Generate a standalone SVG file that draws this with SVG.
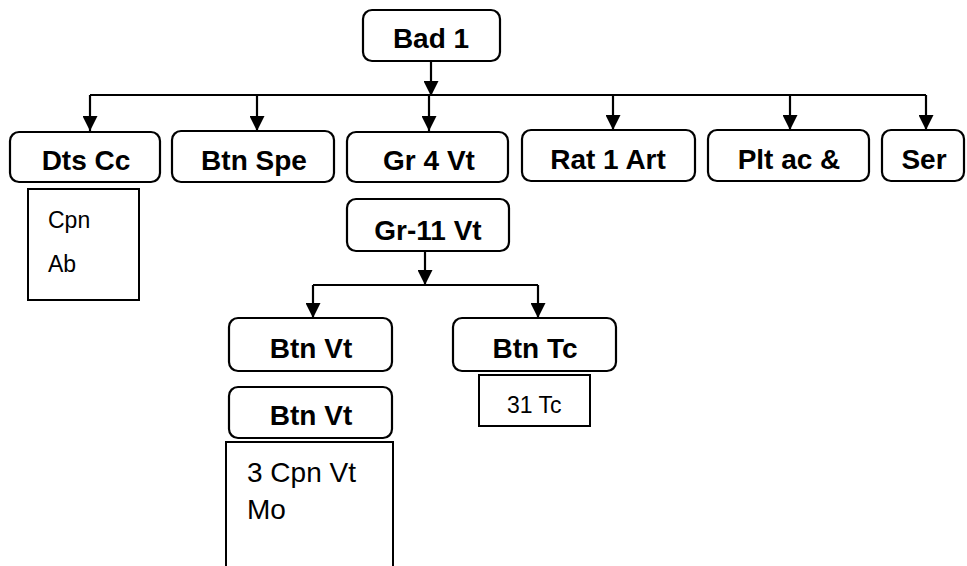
<svg xmlns="http://www.w3.org/2000/svg" width="967" height="566" viewBox="0 0 967 566">
<style>
.box{fill:#fff;stroke:#000;stroke-width:2.2}
.sub{fill:#fff;stroke:#000;stroke-width:2}
.t{font-family:"Liberation Sans",Arial,sans-serif;font-weight:bold;font-size:28px;fill:#000;text-anchor:middle}
.s{font-family:"Liberation Sans",Arial,sans-serif;font-size:23px;fill:#000}
.r{font-family:"Liberation Sans",Arial,sans-serif;font-size:28px;fill:#000}
.c{fill:none;stroke:#000;stroke-width:2.2}
</style>
<defs>
<marker id="ah" markerUnits="userSpaceOnUse" markerWidth="15" markerHeight="15" refX="15" refY="7.5" orient="auto">
<path d="M0,0 L15,7.5 L0,15 z" fill="#000"/>
</marker>
</defs>
<rect width="967" height="566" fill="#fff"/>
<g id="connectors">
<line class="c" x1="431" y1="61" x2="431" y2="96" marker-end="url(#ah)"/>
<line class="c" x1="90" y1="95" x2="926" y2="95"/>
<line class="c" x1="90" y1="95" x2="90" y2="131" marker-end="url(#ah)"/>
<line class="c" x1="257" y1="95" x2="257" y2="131" marker-end="url(#ah)"/>
<line class="c" x1="429" y1="95" x2="429" y2="131" marker-end="url(#ah)"/>
<line class="c" x1="613" y1="95" x2="613" y2="130" marker-end="url(#ah)"/>
<line class="c" x1="790" y1="95" x2="790" y2="130" marker-end="url(#ah)"/>
<line class="c" x1="926" y1="95" x2="926" y2="130" marker-end="url(#ah)"/>
<line class="c" x1="425" y1="251" x2="425" y2="285" marker-end="url(#ah)"/>
<line class="c" x1="313" y1="285" x2="538" y2="285"/>
<line class="c" x1="313" y1="285" x2="313" y2="318" marker-end="url(#ah)"/>
<line class="c" x1="538" y1="285" x2="538" y2="318" marker-end="url(#ah)"/>
</g>
<g id="bad1"><rect class="box" x="363" y="10" width="137" height="51" rx="9"/><text class="t" x="431" y="48">Bad 1</text></g>
<g id="dtscc"><rect class="box" x="10" y="132" width="150" height="50" rx="9"/><text class="t" x="86" y="170">Dts Cc</text></g>
<g id="btnspe"><rect class="box" x="172" y="131" width="162" height="51" rx="9"/><text class="t" x="254" y="170">Btn Spe</text></g>
<g id="gr4vt"><rect class="box" x="347" y="132" width="161" height="50" rx="9"/><text class="t" x="429" y="170">Gr 4 Vt</text></g>
<g id="rat1art"><rect class="box" x="522" y="130" width="173" height="51" rx="9"/><text class="t" x="608" y="169">Rat 1 Art</text></g>
<g id="pltac"><rect class="box" x="708" y="130" width="161" height="51" rx="9"/><text class="t" x="789" y="169">Plt ac &amp;</text></g>
<g id="ser"><rect class="box" x="882" y="130" width="82" height="51" rx="9"/><text class="t" x="924" y="169">Ser</text></g>
<g id="cpnab"><rect class="sub" x="28" y="189" width="111" height="111"/><text class="s" x="48" y="228">Cpn</text><text class="s" x="48" y="272">Ab</text></g>
<g id="gr11vt"><rect class="box" x="347" y="199" width="162" height="52" rx="9"/><text class="t" x="428" y="240">Gr-11 Vt</text></g>
<g id="btnvt1"><rect class="box" x="229" y="318" width="163" height="53" rx="9"/><text class="t" x="311" y="358">Btn Vt</text></g>
<g id="btntc"><rect class="box" x="453" y="318" width="163" height="53" rx="9"/><text class="t" x="535" y="358">Btn Tc</text></g>
<g id="tc31"><rect class="sub" x="479" y="375" width="111" height="51"/><text class="s" x="507" y="413">31 Tc</text></g>
<g id="btnvt2"><rect class="box" x="229" y="387" width="163" height="51" rx="9"/><text class="t" x="311" y="425">Btn Vt</text></g>
<g id="cpnvt"><rect class="sub" x="226" y="442" width="167" height="140"/><text class="r" x="247" y="482">3 Cpn Vt</text><text class="r" x="247" y="519">Mo</text></g>
</svg>
